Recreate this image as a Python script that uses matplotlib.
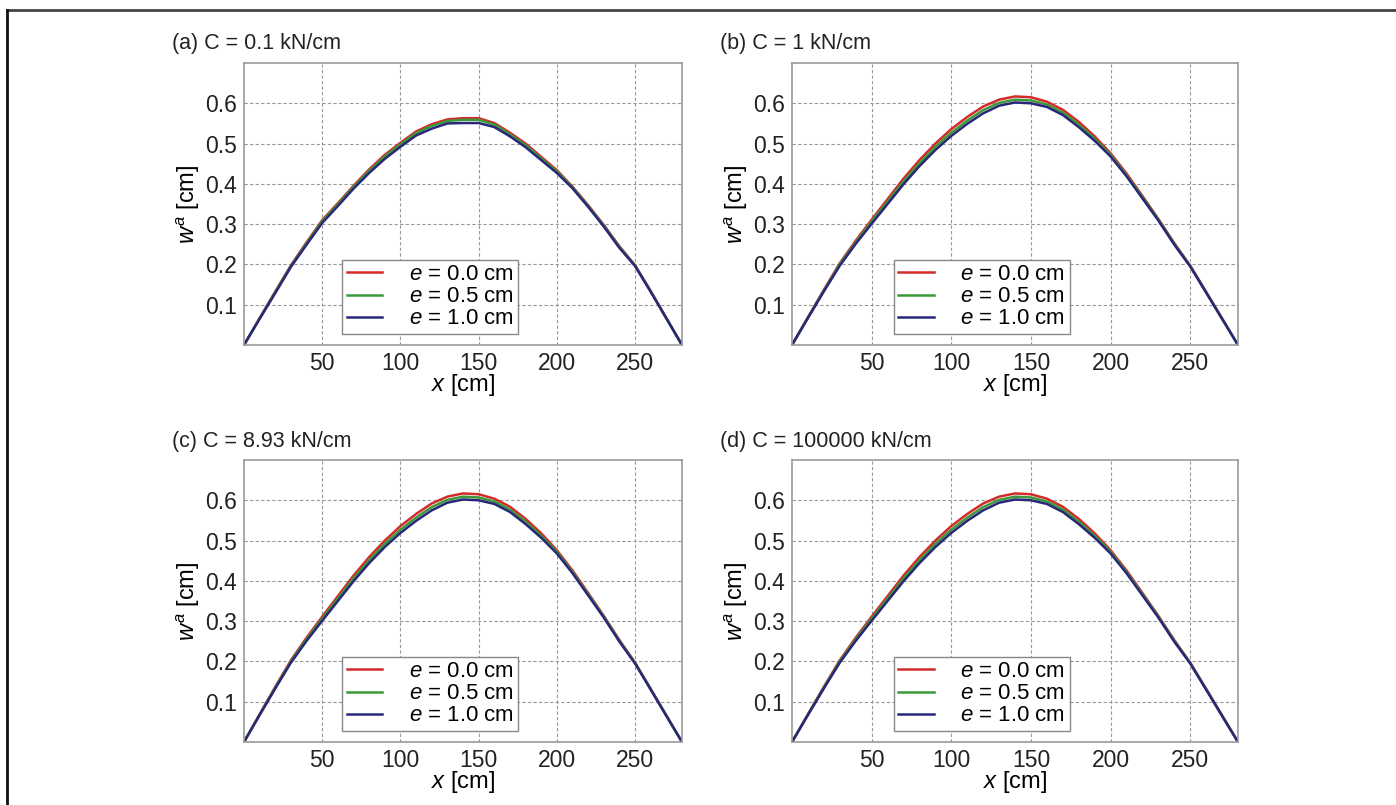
import matplotlib
matplotlib.use("Agg")
import matplotlib.pyplot as plt
from matplotlib.lines import Line2D

plt.rcParams['font.family'] = ['Liberation Sans', 'DejaVu Sans']
plt.rcParams['mathtext.fontset'] = 'custom'
plt.rcParams['mathtext.it'] = 'Liberation Sans:italic'
plt.rcParams['mathtext.rm'] = 'Liberation Sans'

x = [0, 10, 20, 30, 40, 50, 60, 70, 80, 90, 100, 110, 120, 130, 140,
     150, 160, 170, 180, 190, 200, 210, 220, 230, 240, 250, 260, 270, 280]

# panel (a): C = 0.1 kN/cm
a_e00 = [0, 0.067, 0.133, 0.198, 0.255, 0.310, 0.352, 0.395, 0.436, 0.472, 0.502,
         0.530, 0.548, 0.560, 0.563, 0.563, 0.551, 0.527, 0.500, 0.467, 0.434,
         0.393, 0.347, 0.298, 0.245, 0.198, 0.134, 0.067, 0]
a_e05 = [0, 0.066, 0.131, 0.196, 0.252, 0.307, 0.349, 0.392, 0.432, 0.468, 0.498,
         0.526, 0.544, 0.556, 0.559, 0.559, 0.547, 0.523, 0.496, 0.463, 0.431,
         0.391, 0.345, 0.296, 0.243, 0.197, 0.133, 0.066, 0]
a_e10 = [0, 0.065, 0.129, 0.194, 0.249, 0.303, 0.345, 0.388, 0.427, 0.462, 0.492,
         0.520, 0.537, 0.550, 0.551, 0.551, 0.541, 0.518, 0.491, 0.459, 0.427,
         0.389, 0.343, 0.294, 0.241, 0.196, 0.132, 0.066, 0]

# panels (b)-(d): C = 1, 8.93, 100000 kN/cm
b_e00 = [0, 0.069, 0.137, 0.203, 0.259, 0.311, 0.362, 0.413, 0.459, 0.500, 0.536,
         0.566, 0.592, 0.609, 0.617, 0.615, 0.604, 0.584, 0.554, 0.518, 0.476,
         0.426, 0.370, 0.313, 0.253, 0.197, 0.132, 0.066, 0]
b_e05 = [0, 0.068, 0.135, 0.200, 0.255, 0.306, 0.356, 0.406, 0.451, 0.492, 0.527,
         0.557, 0.583, 0.601, 0.609, 0.607, 0.597, 0.577, 0.547, 0.512, 0.472,
         0.422, 0.367, 0.311, 0.251, 0.196, 0.131, 0.065, 0]
b_e10 = [0, 0.067, 0.133, 0.197, 0.251, 0.301, 0.350, 0.399, 0.444, 0.484, 0.519,
         0.549, 0.575, 0.594, 0.602, 0.600, 0.591, 0.571, 0.541, 0.507, 0.468,
         0.419, 0.364, 0.309, 0.249, 0.195, 0.130, 0.065, 0]

titles = ["(a) C = 0.1 kN/cm", "(b) C = 1 kN/cm",
          "(c) C = 8.93 kN/cm", "(d) C = 100000 kN/cm"]
panel_data = [(a_e00, a_e05, a_e10), (b_e00, b_e05, b_e10),
              (b_e00, b_e05, b_e10), (b_e00, b_e05, b_e10)]
labels = [r"$e$ = 0.0 cm", r"$e$ = 0.5 cm", r"$e$ = 1.0 cm"]
colors = ["#d42a2a", "#3a9a3a", "#28287a"]

W, H = 1396, 805
fig = plt.figure(figsize=(W / 100, H / 100), dpi=100)

# axes boxes in pixels: left, top, right, bottom
boxes = [(244, 63, 682, 345), (792, 63, 1238, 345),
         (244, 460, 682, 742), (792, 460, 1238, 742)]

for k, (l, t, r, b) in enumerate(boxes):
    ax = fig.add_axes([l / W, 1 - b / H, (r - l) / W, (b - t) / H])
    for series, lab, col in zip(panel_data[k], labels, colors):
        ax.plot(x, series, color=col, lw=1.8, label=lab)
    ax.set_xlim(0, 280)
    ax.set_ylim(0, 0.7)
    ax.set_xticks([50, 100, 150, 200, 250])
    ax.set_yticks([0.1, 0.2, 0.3, 0.4, 0.5, 0.6])
    ax.tick_params(length=0, labelsize=16.5, pad=5, colors="#222222")
    ax.grid(True, color="#999999", ls=(0, (3, 2)), lw=0.8)
    for s in ax.spines.values():
        s.set_color("#999999")
        s.set_linewidth(1.2)
    ax.set_xlabel(r"$x$ [cm]", fontsize=17, labelpad=-2)
    ax.set_ylabel(r"$w^a$ [cm]", fontsize=17, labelpad=2)
    leg = ax.legend(loc="lower center", bbox_to_anchor=(0.425, 0.0), fontsize=16,
                    handlelength=1.6, handletextpad=1.2, borderpad=0.2,
                    labelspacing=0.05, fancybox=False, framealpha=1)
    leg.get_frame().set_edgecolor("#888888")
    leg.get_frame().set_linewidth(1.0)
    fig.text((l - 72) / W, 1 - (t - 19) / H, titles[k], fontsize=15.5,
             ha="left", va="center", color="#222222")

# outer frame lines (top and left)
fig.add_artist(Line2D([7 / W, 1], [1 - 10 / H, 1 - 10 / H], color="#444444", lw=2,
                      transform=fig.transFigure))
fig.add_artist(Line2D([7 / W, 7 / W], [0, 1 - 10 / H], color="#111111", lw=2,
                      transform=fig.transFigure))

fig.savefig("out.png", dpi=100)
